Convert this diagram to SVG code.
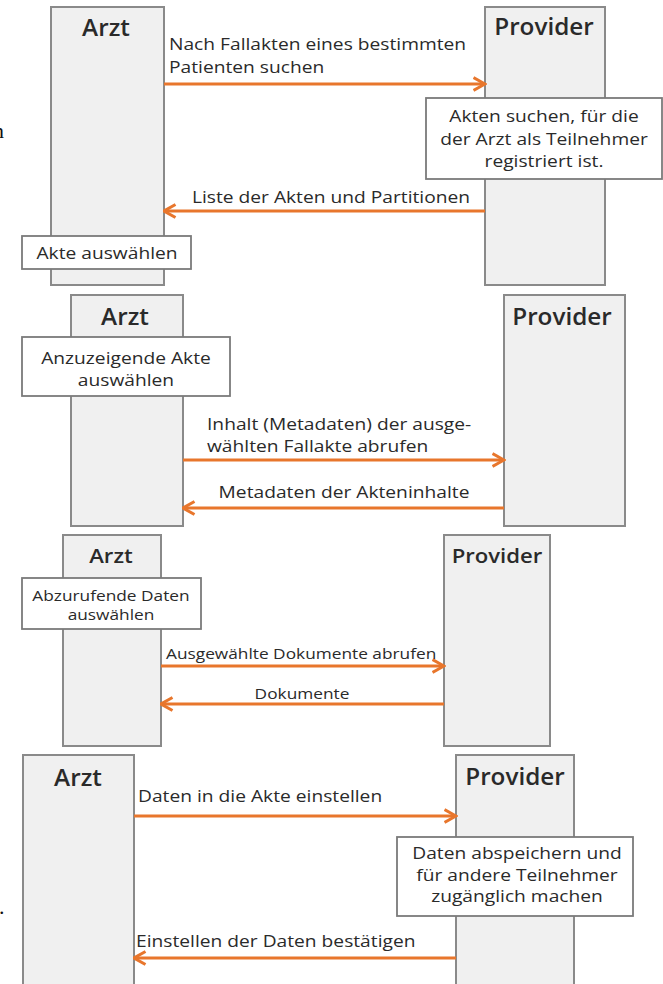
<svg xmlns="http://www.w3.org/2000/svg" width="663" height="984" viewBox="0 0 663 984">
  <style>
    .life { fill: #f0f0f0; stroke: #8a8a8a; stroke-width: 2; }
    .act { fill: #ffffff; stroke: #7a7a7a; stroke-width: 1.8; }
    .msg { fill: none; stroke: #e8762c; stroke-width: 3; marker-end: url(#head); }
    text { font-family: "Open Sans", "Noto Sans", "Liberation Sans", sans-serif; fill: #2a2a2a; }
    .title { font-size: 22.5px; text-anchor: middle; font-weight: 600; }
    .title-s { font-size: 20.5px; text-anchor: middle; font-weight: 600; }
    .lbl { font-size: 17px; }
    .lbl-s { font-size: 15.3px; }
    .mid { text-anchor: middle; }
    .edge { font-family: "Liberation Serif", serif; font-size: 22px; fill: #111111; }
  </style>
  <defs>
    <marker id="head" viewBox="0 0 14 16" refX="12.5" refY="8" markerWidth="14" markerHeight="16" markerUnits="userSpaceOnUse" orient="auto">
      <path d="M1,1.5 L12.5,8 L1,14.5" fill="none" stroke="#e8762c" stroke-width="3"/>
    </marker>
  </defs>

  <!-- fragments of the neighbouring text column -->
  <text class="edge" x="-7" y="138">n</text>
  <text class="edge" x="-1" y="914">.</text>

  <!-- ===== Sequence 1: search case files ===== -->
  <g id="s1-arzt">
    <rect class="life" x="51" y="7" width="113" height="278"/>
    <g transform="matrix(1.08 0 0 1 106 0)"><text class="title" y="36">Arzt</text></g>
  </g>
  <g id="s1-provider">
    <rect class="life" x="485" y="7" width="120" height="278"/>
    <g transform="matrix(1.08 0 0 1 544 0)"><text class="title" y="35">Provider</text></g>
  </g>
  <g id="s1-search">
    <rect class="act" x="426" y="98" width="236" height="81"/>
    <g transform="matrix(1.13 0 0 1 544 0)">
      <text class="lbl mid" y="122">Akten suchen, für die</text>
      <text class="lbl mid" y="145">der Arzt als Teilnehmer</text>
      <text class="lbl mid" y="167">registriert ist.</text>
    </g>
  </g>
  <g id="s1-select">
    <rect class="act" x="22" y="236" width="169" height="33"/>
    <g transform="matrix(1.13 0 0 1 107 0)"><text class="lbl mid" y="259">Akte auswählen</text></g>
  </g>

  <!-- ===== Sequence 2: fetch metadata ===== -->
  <g id="s2-arzt">
    <rect class="life" x="71" y="295" width="112" height="231"/>
    <g transform="matrix(1.08 0 0 1 125 0)"><text class="title" y="325">Arzt</text></g>
  </g>
  <g id="s2-provider">
    <rect class="life" x="504" y="295" width="121" height="231"/>
    <g transform="matrix(1.08 0 0 1 562 0)"><text class="title" y="325">Provider</text></g>
  </g>
  <g id="s2-select">
    <rect class="act" x="22" y="337" width="208" height="59"/>
    <g transform="matrix(1.13 0 0 1 126 0)">
      <text class="lbl mid" y="364">Anzuzeigende Akte</text>
      <text class="lbl mid" y="386">auswählen</text>
    </g>
  </g>

  <!-- ===== Sequence 3: fetch documents ===== -->
  <g id="s3-arzt">
    <rect class="life" x="63" y="535" width="98" height="211"/>
    <g transform="matrix(1.08 0 0 1 111 0)"><text class="title-s" y="563">Arzt</text></g>
  </g>
  <g id="s3-provider">
    <rect class="life" x="444" y="535" width="106" height="211"/>
    <g transform="matrix(1.08 0 0 1 497 0)"><text class="title-s" y="563">Provider</text></g>
  </g>
  <g id="s3-select">
    <rect class="act" x="22" y="578" width="179" height="51"/>
    <g transform="matrix(1.13 0 0 1 111 0)">
      <text class="lbl-s mid" y="601">Abzurufende Daten</text>
      <text class="lbl-s mid" y="620">auswählen</text>
    </g>
  </g>

  <!-- ===== Sequence 4: store data ===== -->
  <g id="s4-arzt">
    <rect class="life" x="23" y="755" width="111" height="240"/>
    <g transform="matrix(1.08 0 0 1 78 0)"><text class="title" y="786">Arzt</text></g>
  </g>
  <g id="s4-provider">
    <rect class="life" x="456" y="755" width="118" height="240"/>
    <g transform="matrix(1.08 0 0 1 515 0)"><text class="title" y="785">Provider</text></g>
  </g>
  <g id="s4-store">
    <rect class="act" x="397" y="837" width="236" height="79"/>
    <g transform="matrix(1.13 0 0 1 517 0)">
      <text class="lbl mid" y="859">Daten abspeichern und</text>
      <text class="lbl mid" y="881">für andere Teilnehmer</text>
      <text class="lbl mid" y="902">zugänglich machen</text>
    </g>
  </g>

  <!-- ===== Messages ===== -->
  <g id="connectors">
    <path class="msg" d="M164,84 H485"/>
    <g transform="matrix(1.13 0 0 1 169 0)">
      <text class="lbl" y="50">Nach Fallakten eines bestimmten</text>
      <text class="lbl" y="73">Patienten suchen</text>
    </g>

    <path class="msg" d="M485,211 H164"/>
    <g transform="matrix(1.13 0 0 1 331 0)"><text class="lbl mid" y="203">Liste der Akten und Partitionen</text></g>

    <path class="msg" d="M183,460 H504"/>
    <g transform="matrix(1.13 0 0 1 207 0)">
      <text class="lbl" y="430">Inhalt (Metadaten) der ausge-</text>
      <text class="lbl" y="452">wählten Fallakte abrufen</text>
    </g>

    <path class="msg" d="M504,508 H183"/>
    <g transform="matrix(1.13 0 0 1 344 0)"><text class="lbl mid" y="498">Metadaten der Akteninhalte</text></g>

    <path class="msg" d="M161,666 H444"/>
    <g transform="matrix(1.13 0 0 1 166 0)"><text class="lbl-s" y="659">Ausgewählte Dokumente abrufen</text></g>

    <path class="msg" d="M444,704 H161"/>
    <g transform="matrix(1.13 0 0 1 302 0)"><text class="lbl-s mid" y="699">Dokumente</text></g>

    <path class="msg" d="M134,816 H456"/>
    <g transform="matrix(1.13 0 0 1 138 0)"><text class="lbl" y="802">Daten in die Akte einstellen</text></g>

    <path class="msg" d="M456,958 H134"/>
    <g transform="matrix(1.13 0 0 1 136 0)"><text class="lbl" y="947">Einstellen der Daten bestätigen</text></g>
  </g>
</svg>
